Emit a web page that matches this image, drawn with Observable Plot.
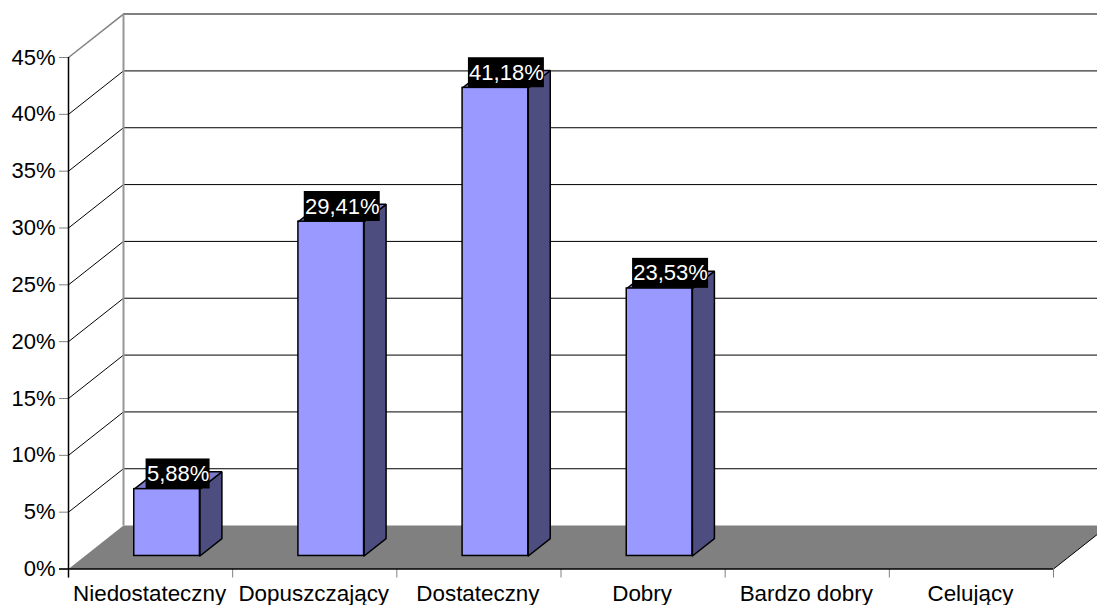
<!DOCTYPE html>
<html lang="pl">
<head>
<meta charset="utf-8">
<title>Rozkład ocen</title>
<script src="https://cdn.jsdelivr.net/npm/d3@7"></script>
<script src="https://cdn.jsdelivr.net/npm/@observablehq/plot@0.6"></script>
<style>
  html, body { margin: 0; padding: 0; background: #fff; overflow: hidden; }
</style>
</head>
<body>
<div id="chart"></div>
<script>
// Grades and the share of students that received each one.
const grades = ["Niedostateczny", "Dopuszczający", "Dostateczny", "Dobry", "Bardzo dobry", "Celujący"];
const shares = [5.88, 29.41, 41.18, 23.53, 0, 0];
const shareLabels = ["5,88%", "29,41%", "41,18%", "23,53%"];
const yTicks = [0, 5, 10, 15, 20, 25, 30, 35, 40, 45];
const xTicks = [0, 1, 2, 3, 4, 5, 6];

// Oblique projection of the chart box, in scale units: one unit of depth
// moves right by depthX categories and up by depthY percentage points.
const depthX = 0.335;
const depthY = 3.82;
const project = (x, y, d) => ({x: x + depthX * d, y: y + depthY * d});

// Each bar is 0.4 of a category wide and spans the middle of the depth.
const barWidth = 0.4;
const depthFront = 0.3;
const depthBack = 0.7;

const bars = shares
  .map((value, i) => ({i, value, left: i + 0.5 - barWidth / 2, right: i + 0.5 + barWidth / 2}))
  .filter((b) => b.value > 0);

const frontFaces = bars.map((b) => {
  const a = project(b.left, 0, depthFront);
  const c = project(b.right, b.value, depthFront);
  return {x1: a.x, x2: c.x, y1: a.y, y2: c.y};
});
const sideFaces = bars.flatMap((b) => [
  {...project(b.right, 0, depthFront), bar: b.i},
  {...project(b.right, 0, depthBack), bar: b.i},
  {...project(b.right, b.value, depthBack), bar: b.i},
  {...project(b.right, b.value, depthFront), bar: b.i},
  {...project(b.right, 0, depthFront), bar: b.i}
]);
const topFaces = bars.flatMap((b) => [
  {...project(b.left, b.value, depthFront), bar: b.i},
  {...project(b.right, b.value, depthFront), bar: b.i},
  {...project(b.right, b.value, depthBack), bar: b.i},
  {...project(b.left, b.value, depthBack), bar: b.i},
  {...project(b.left, b.value, depthFront), bar: b.i}
]);

// Value labels sit on black plates centred over the top of each bar.
const plateHalfHeight = 1.32;
const plateLift = 0.57;
const labels = bars.map((b, k) => {
  const c = project(b.i + 0.5, b.value, 0.5);
  const half = (shareLabels[k].length === 5 ? 32 : 38) / 164.2;
  return {
    text: shareLabels[k],
    x: c.x,
    y: c.y + plateLift,
    x1: c.x - half,
    x2: c.x + half,
    y1: c.y + plateLift - plateHalfHeight,
    y2: c.y + plateLift + plateHalfHeight
  };
});

const floor = [
  project(0, 0, 0),
  project(6, 0, 0),
  project(6, 0, 1),
  project(0, 0, 1),
  project(0, 0, 0)
];

const chart = Plot.plot({
  width: 1097,
  height: 605,
  marginLeft: 68,
  marginRight: 44,
  marginTop: 57,
  marginBottom: 36.5,
  style: {fontFamily: "'Liberation Sans', Arial, sans-serif", fontSize: "22px", background: "#fff", color: "#000"},
  x: {domain: [0, 6], range: [68, 1053], axis: null},
  y: {domain: [0, 45], range: [568.5, 57], axis: null},
  marks: [
    // Back wall gridlines
    Plot.ruleY(yTicks.filter((d) => d > 0 && d < 45), {
      y: (d) => d + depthY, x1: depthX, x2: 6 + depthX, stroke: "#000", strokeWidth: 1
    }),
    Plot.ruleY([45], {y: (d) => d + depthY, x1: depthX, x2: 6 + depthX, stroke: "#808080", strokeWidth: 2}),
    // Side wall gridlines running back from the value axis
    Plot.link(yTicks.filter((d) => d > 0 && d < 45), {
      x1: 0, y1: (d) => d, x2: depthX, y2: (d) => d + depthY, stroke: "#000", strokeWidth: 1
    }),
    Plot.link([45], {x1: 0, y1: (d) => d, x2: depthX, y2: (d) => d + depthY, stroke: "#808080", strokeWidth: 1.5}),
    Plot.link([0], {
      x1: depthX, x2: depthX, y1: (d) => d + depthY, y2: 45 + depthY, stroke: "#969696", strokeWidth: 2
    }),
    // Floor
    Plot.line(floor, {x: "x", y: "y", fill: "#808080", stroke: "none"}),
    Plot.link([6], {x1: (d) => d, y1: 0, x2: (d) => d + depthX, y2: depthY, stroke: "#000", strokeWidth: 1}),
    // Bars
    Plot.line(sideFaces, {x: "x", y: "y", z: "bar", fill: "#4d4d80", stroke: "#000", strokeWidth: 1.5, strokeLinejoin: "miter"}),
    Plot.line(topFaces, {x: "x", y: "y", z: "bar", fill: "#7a7acc", stroke: "#000", strokeWidth: 1.5, strokeLinejoin: "miter"}),
    Plot.rect(frontFaces, {x1: "x1", x2: "x2", y1: "y1", y2: "y2", fill: "#9999ff", stroke: "#000", strokeWidth: 1.5}),
    // Axes
    Plot.axisY({
      ticks: yTicks, tickFormat: (d) => `${d}%`, tickSize: 9, tickPadding: 4,
      stroke: "#808080", fill: "#000", fontSize: 22, anchor: "left"
    }),
    Plot.axisX({
      ticks: xTicks, tickFormat: () => "", tickSize: 9, stroke: "#808080", anchor: "bottom"
    }),
    Plot.ruleX([0], {y1: -0.8, y2: 45, stroke: "#000", strokeWidth: 1.5}),
    Plot.ruleY([0], {x1: -0.055, x2: 6, stroke: "#000", strokeWidth: 1.5}),
    Plot.text(grades, {
      x: (d, i) => i + 0.5, y: 0, dy: 25, dx: -1, text: (d) => d, fill: "#000", fontSize: 22.4
    }),
    // Value labels
    Plot.rect(labels, {x1: "x1", x2: "x2", y1: "y1", y2: "y2", fill: "#000"}),
    Plot.text(labels, {x: "x", y: "y", text: "text", fill: "#fff", fontSize: 22})
  ]
});

document.getElementById("chart").append(chart);
</script>
</body>
</html>
